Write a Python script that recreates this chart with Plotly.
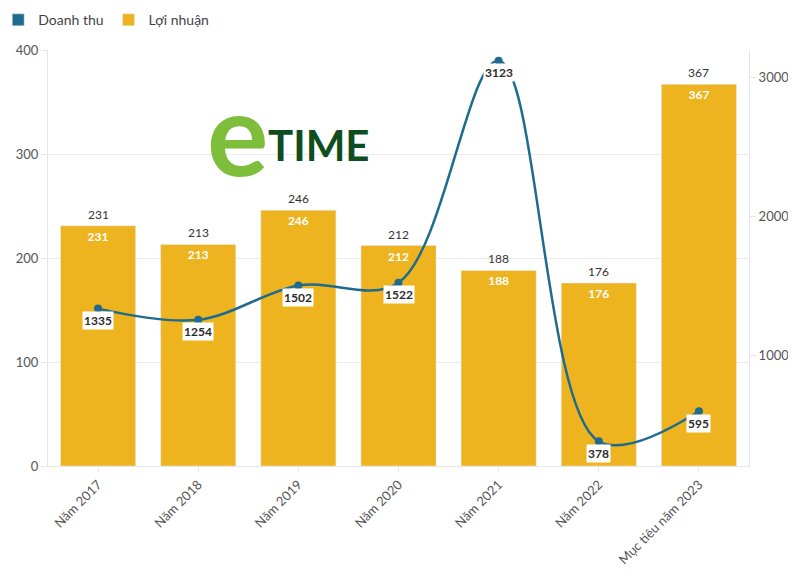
import plotly.graph_objs as go

categories = ["Năm 2017", "Năm 2018", "Năm 2019", "Năm 2020", "Năm 2021", "Năm 2022", "Mục tiêu năm 2023"]
loi_nhuan = [231, 213, 246, 212, 188, 176, 367]
doanh_thu = [1335, 1254, 1502, 1522, 3123, 378, 595]

BAR_COLOR = "#EDB41F"
LINE_COLOR = "#1F6B8E"
FONT = "Lato"

data = []

# bars with white label inside the top
data.append(go.Bar(
    x=categories, y=loi_nhuan,
    name="Lợi nhuận",
    marker=dict(color=BAR_COLOR),
    width=0.75,
    text=loi_nhuan,
    textposition="inside",
    insidetextanchor="end",
    textfont=dict(color="white", size=12, family=FONT, weight="bold"),
    showlegend=False,
    yaxis="y"))

data.append(go.Scatter(
    x=categories, y=doanh_thu,
    name="Doanh thu",
    mode="lines+markers",
    line=dict(color=LINE_COLOR, width=2.5, shape="spline", smoothing=1.0),
    marker=dict(color=LINE_COLOR, size=8),
    showlegend=False,
    yaxis="y2"))

# legend-only entries (square swatches)
data.append(go.Bar(x=[None], y=[None], name="Doanh thu", marker=dict(color=LINE_COLOR)))
data.append(go.Bar(x=[None], y=[None], name="Lợi nhuận", marker=dict(color=BAR_COLOR)))

annotations = []
# dark label above each bar
for c, v in zip(categories, loi_nhuan):
    annotations.append(dict(
        x=c, y=v, xref="x", yref="y",
        text=str(v), showarrow=False,
        yanchor="bottom", yshift=2,
        font=dict(color="#333333", size=12, family=FONT)))
# line labels with white box
for c, v in zip(categories, doanh_thu):
    annotations.append(dict(
        x=c, y=v, xref="x", yref="y2",
        text=str(v), showarrow=False, yshift=-12,
        bgcolor="white", borderpad=1,
        font=dict(color="#2b2b2b", size=12, family=FONT, weight="bold")))

# eTIME watermark logo
annotations.append(dict(
    x=0.270, y=0.805, xref="paper", yref="paper",
    xanchor="center", yanchor="middle",
    text="e", showarrow=False,
    font=dict(color="#7DBE3A", size=115, family=FONT, weight="bold")))
annotations.append(dict(
    x=0.387, y=0.772, xref="paper", yref="paper",
    xanchor="center", yanchor="middle",
    text="TIME", showarrow=False,
    font=dict(color="#0E4D1E", size=42, family=FONT, weight="bold")))

# page body has an 8px margin, so the figure is a bit smaller than the window
layout = go.Layout(
    width=788, height=567,
    margin=dict(l=40, r=47, t=42, b=109, autoexpand=False),
    paper_bgcolor="white", plot_bgcolor="white",
    font=dict(family=FONT, size=12, color="#555555"),
    barmode="overlay",
    xaxis=dict(
        range=[-0.5, 6.5],
        tickangle=-45,
        showline=True, linecolor="#e6e6e6", linewidth=1,
        ticks="outside", ticklen=5, tickcolor="#e6e6e6",
        tickfont=dict(size=13, color="#555555"),
        showgrid=False),
    yaxis=dict(
        range=[0, 400], dtick=100,
        showline=True, linecolor="#e6e6e6",
        ticks="outside", ticklen=6, tickcolor="#e6e6e6",
        gridcolor="#ebebeb", zeroline=False,
        tickfont=dict(size=13, color="#555555")),
    yaxis2=dict(
        range=[200, 3200], tickvals=[1000, 2000, 3000],
        overlaying="y", side="right",
        showline=True, linecolor="#e6e6e6",
        ticks="outside", ticklen=6, tickcolor="#e6e6e6",
        showgrid=False, zeroline=False,
        tickfont=dict(size=13, color="#555555")),
    legend=dict(
        orientation="h",
        x=-0.071, y=1.11, xanchor="left", yanchor="top",
        font=dict(size=14, color="#444444"),
        itemwidth=30),
    annotations=annotations,
    hovermode="x")

fig = go.Figure(data=data, layout=layout)
fig.write_html("out.html")
